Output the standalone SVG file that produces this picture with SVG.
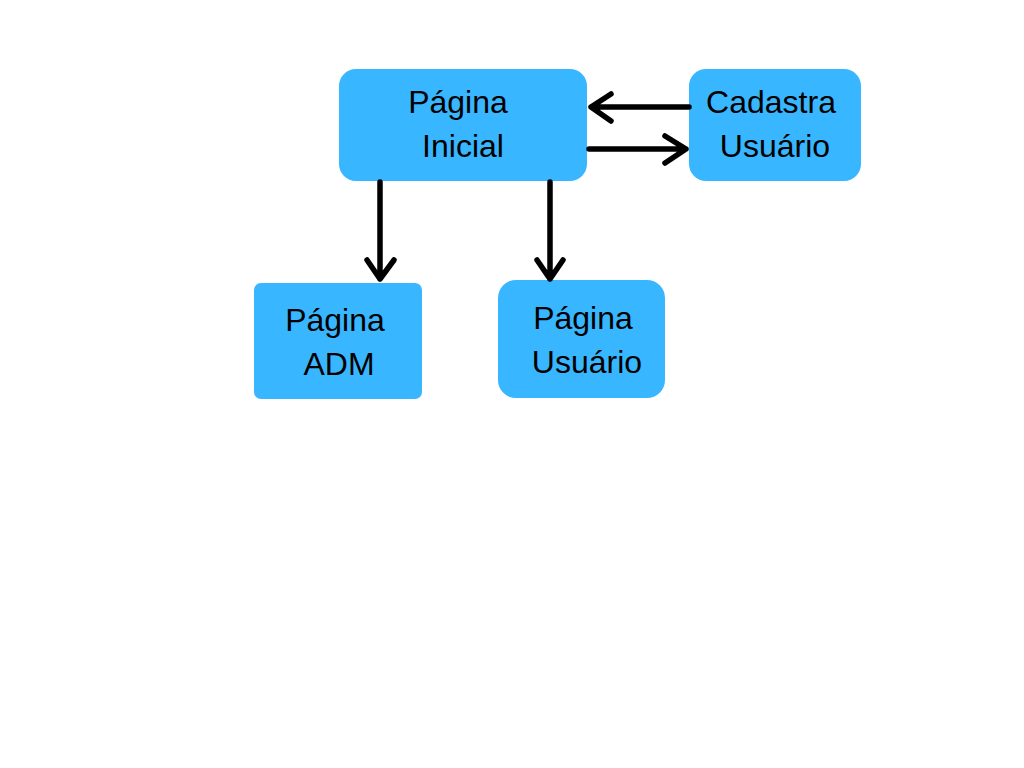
<svg xmlns="http://www.w3.org/2000/svg" width="1024" height="768" viewBox="0 0 1024 768">
<style>
.box{fill:#38b6ff}
.t{font-family:"Liberation Sans",Arial,sans-serif;font-size:32px;fill:#000;text-anchor:middle}
.c{fill:none;stroke:#000;stroke-width:5.5;stroke-linecap:round;stroke-linejoin:round}
</style>
<rect width="1024" height="768" fill="#fff"/>
<g id="inicial"><rect class="box" x="339" y="69" width="248" height="112" rx="17"/><text class="t" x="458" y="113">Página</text><text class="t" x="463" y="157">Inicial</text></g>
<g id="cadastra"><rect class="box" x="689" y="69" width="172" height="112" rx="17"/><text class="t" x="771" y="113">Cadastra</text><text class="t" x="775" y="157">Usuário</text></g>
<g id="adm"><rect class="box" x="254" y="283" width="168" height="116" rx="7"/><text class="t" x="335" y="331">Página</text><text class="t" x="339" y="375">ADM</text></g>
<g id="usuario"><rect class="box" x="498" y="280" width="167" height="118" rx="18"/><text class="t" x="583" y="329">Página</text><text class="t" x="587" y="373">Usuário</text></g>
<g id="connectors">
<path class="c" d="M689 107H591M611 94L591 107L611 121"/>
<path class="c" d="M589 149H686M665 136L686 149L665 163"/>
<path class="c" d="M380 182V279M367 260L380 279L394 260"/>
<path class="c" d="M550 182V279M537 260L550 279L563 260"/>
</g>
</svg>
